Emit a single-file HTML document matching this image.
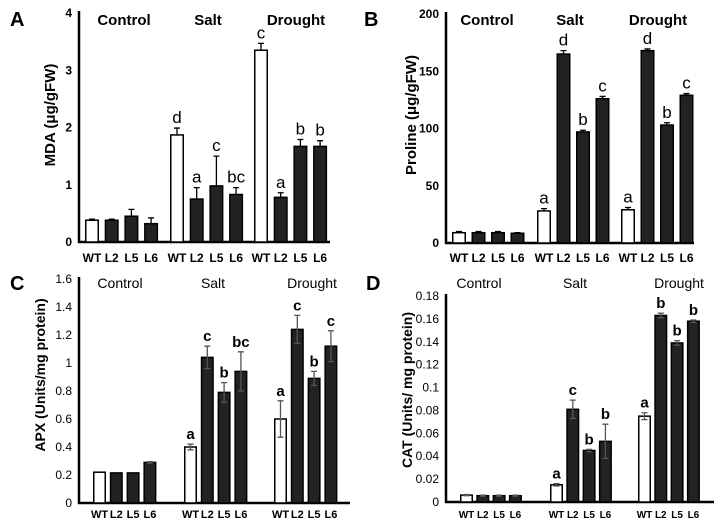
<!DOCTYPE html>
<html><head><meta charset="utf-8"><style>
body{margin:0;background:#fff;width:722px;height:527px;overflow:hidden}
svg{display:block}
</style></head><body>
<svg id="fig" width="722" height="527" xmlns="http://www.w3.org/2000/svg" font-family="Liberation Sans, sans-serif"></svg>
<script>
// Panel A: MDA
const mdaValues=[0.38,0.38,0.45,0.32, 1.87,0.75,0.98,0.83, 3.35,0.78,1.67,1.67];
const mdaErrors=[0.02,0.02,0.12,0.10, 0.12,0.20,0.52,0.12, 0.12,0.08,0.12,0.10];
const mdaLetters=["","","","", "d","a","c","bc", "c","a","b","b"];
const mdaTicks=["0","1","2","3","4"];
// Panel B: Proline
const proValues=[9,9,9,8.5, 28,165,97,126, 29,168,103,129];
const proErrors=[1,1,1,0.5, 2,3,1.5,2, 2,1.5,2,1.5];
const proLetters=["","","","", "a","d","b","c", "a","d","b","c"];
const proTicks=["0","50","100","150","200"];
// Panel C: APX
const apxValues=[0.22,0.215,0.215,0.29, 0.40,1.04,0.79,0.94, 0.60,1.24,0.89,1.12];
const apxErrors=[0,0,0,0.005, 0.02,0.08,0.07,0.14, 0.13,0.10,0.05,0.11];
const apxLetters=["","","","", "a","c","b","bc", "a","c","b","c"];
const apxTicks=["0","0.2","0.4","0.6","0.8","1","1.2","1.4","1.6"];
// Panel D: CAT
const catValues=[0.006,0.0055,0.0055,0.0055, 0.015,0.081,0.045,0.053, 0.075,0.163,0.139,0.158];
const catErrors=[0.0005,0.0005,0.0005,0.0005, 0.001,0.008,0.001,0.015, 0.003,0.002,0.002,0.001];
const catLetters=["","","","", "a","c","b","b", "a","b","b","b"];
const catTicks=["0","0.02","0.04","0.06","0.08","0.1","0.12","0.14","0.16","0.18"];
const groups=["Control","Salt","Drought"];
const genotypes=["WT","L2","L5","L6"];

const NS="http://www.w3.org/2000/svg";
const svg=document.getElementById('fig');
function mk(tag,attrs,parent){const e=document.createElementNS(NS,tag);for(const k in attrs)e.setAttribute(k,attrs[k]);(parent||svg).appendChild(e);return e;}
function txt(s,attrs,parent){const e=mk('text',attrs,parent);e.textContent=s;return e;}

function panel(p){
  const g=mk('g',{});
  
  
  const y=v=>p.y0-(v/p.max)*(p.y0-p.yTop);
  const x=i=>p.gStart[Math.floor(i/4)]+(i%4)*p.step;
  const lbl=txt(p.letter,{x:p.letterX,y:p.letterY,'font-size':20,'font-weight':'bold'},g);
  
  
  const ya=mk('line',{x1:p.ax,y1:p.yTop-2,x2:p.ax,y2:p.y0+1,stroke:'#000','stroke-width':2.5},g);
  
  
  const xa=mk('line',{x1:p.ax-1,y1:p.y0,x2:p.axEnd,y2:p.y0,stroke:'#000','stroke-width':2.5},g);
  
  
  p.ticks.forEach(t=>{
    const v=parseFloat(t);
    const e=txt(t,{x:p.ax-7,y:y(v)+4,'font-size':p.tickSize,'font-weight':p.tickBold?'bold':'normal','text-anchor':'end'},g);
    
    
  });
  const yt=txt(p.title,{x:0,y:0,'font-size':p.titleSize,'font-weight':'bold','text-anchor':'middle',transform:`translate(${p.titleX},${p.titleY}) rotate(-90)`},g);
  
  
  groups.forEach((gn,k)=>{
    const e=txt(gn,{x:p.groupX[k],y:p.groupY,'font-size':p.groupSize,'font-weight':p.tickBold?'bold':'normal','text-anchor':'middle'},g);
    
    
  });
  p.values.forEach((v,i)=>{
    const bx=x(i), by=y(v), wt=(i%4===0);
    const r=mk('rect',{x:bx+0.75,y:by,width:p.bw-1.5,height:p.y0-by,fill:wt?'#fff':'#222',stroke:'#000','stroke-width':1.5},g);
    
    
    const err=p.errors[i];
    if(err>0){
      const cx=bx+p.bw/2, yt2=y(v+err), yb=p.errBoth?y(v-err):by;
      const el=mk('path',{d:`M${cx},${yb}V${yt2}M${cx-3},${yt2}H${cx+3}`+(p.errBoth?`M${cx-3},${yb}H${cx+3}`:''),stroke:p.errBoth?'#555':'#000','stroke-width':1.3,fill:'none'},g);
      
      
    }
    if(p.letters[i]){
      const le=txt(p.letters[i],{x:bx+p.bw/2,y:y(v+err)-5,'font-size':p.letterSize,'text-anchor':'middle','font-weight':p.tickBold?'normal':'bold'},g);
      
      
    }
    const xl=txt(genotypes[i%4],{x:bx+p.bw/2,y:p.xLabY,'font-size':p.xLabSize,'font-weight':'bold','text-anchor':'middle'},g);
    
    
  });
}

panel({id:'a-mda',letter:'A',letterX:10,letterY:26,values:mdaValues,errors:mdaErrors,letters:mdaLetters,ticks:mdaTicks,max:4,
  ax:79,axEnd:330,yTop:13,y0:242,gStart:[85,170,254],step:19.7,bw:14,tickSize:12,tickBold:true,letterSize:17,
  title:'MDA (\u03bcg/gFW)',titleSize:15,titleX:55,titleY:115,groupX:[124,208,296],groupY:25,groupSize:15,xLabY:262,xLabSize:12,errBoth:false});
panel({id:'b-proline',letter:'B',letterX:364,letterY:26,values:proValues,errors:proErrors,letters:proLetters,ticks:proTicks,max:200,
  ax:446,axEnd:694,yTop:14,y0:243,gStart:[452,537,621],step:19.5,bw:14,tickSize:12,tickBold:true,letterSize:17,
  title:'Proline (\u03bcg/gFW)',titleSize:15,titleX:416,titleY:115,groupX:[487,570,658],groupY:25,groupSize:15,xLabY:262,xLabSize:12,errBoth:false});
panel({id:'c-apx',letter:'C',letterX:10,letterY:290,values:apxValues,errors:apxErrors,letters:apxLetters,ticks:apxTicks,max:1.6,
  ax:79,axEnd:350,yTop:279,y0:503,gStart:[93,184,274],step:16.8,bw:13,tickSize:12,tickBold:false,letterSize:15,
  title:'APX (Units/mg protein)',titleSize:14,titleX:45,titleY:375,groupX:[120,213,312],groupY:288,groupSize:14,xLabY:518,xLabSize:11,errBoth:true});
panel({id:'d-cat',letter:'D',letterX:366,letterY:290,values:catValues,errors:catErrors,letters:catLetters,ticks:catTicks,max:0.18,
  ax:446,axEnd:714,yTop:296,y0:502,gStart:[460,550,638],step:16.3,bw:13,tickSize:12,tickBold:false,letterSize:15,
  title:'CAT (Units/ mg protein)',titleSize:14,titleX:412,titleY:390,groupX:[479,575,679],groupY:288,groupSize:14,xLabY:518,xLabSize:10,errBoth:true});
</script>
</body></html>
